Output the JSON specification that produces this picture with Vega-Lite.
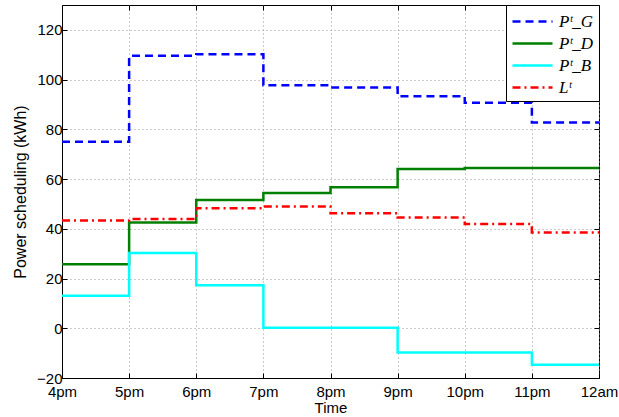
{
  "$schema": "https://vega.github.io/schema/vega-lite/v6.json",
  "width": 537,
  "height": 373,
  "autosize": {"type": "none"},
  "padding": {"left": 62, "top": 5, "right": 20, "bottom": 39},
  "background": "white",
  "config": {
    "view": {"stroke": "black", "strokeWidth": 1},
    "font": "Liberation Sans",
    "axis": {
      "domainColor": "black",
      "tickColor": "black",
      "labelColor": "black",
      "titleColor": "black",
      "labelFontSize": 15,
      "titleFontSize": 15,
      "titleFontWeight": "normal",
      "gridColor": "#999999",
      "gridDash": [1, 3],
      "gridOpacity": 1,
      "tickSize": -5,
      "labelFlush": false
    }
  },
  "data": {
    "values": [
      {"series": "Pᵗ_G", "hour": 16, "value": 75.0},
      {"series": "Pᵗ_G", "hour": 17, "value": 109.6},
      {"series": "Pᵗ_G", "hour": 18, "value": 110.2},
      {"series": "Pᵗ_G", "hour": 19, "value": 97.7},
      {"series": "Pᵗ_G", "hour": 20, "value": 96.8},
      {"series": "Pᵗ_G", "hour": 21, "value": 93.3},
      {"series": "Pᵗ_G", "hour": 22, "value": 90.7},
      {"series": "Pᵗ_G", "hour": 23, "value": 82.7},
      {"series": "Pᵗ_G", "hour": 24, "value": 82.7},
      {"series": "Pᵗ_D", "hour": 16, "value": 25.7},
      {"series": "Pᵗ_D", "hour": 17, "value": 42.5},
      {"series": "Pᵗ_D", "hour": 18, "value": 51.6},
      {"series": "Pᵗ_D", "hour": 19, "value": 54.4},
      {"series": "Pᵗ_D", "hour": 20, "value": 56.7},
      {"series": "Pᵗ_D", "hour": 21, "value": 64.0},
      {"series": "Pᵗ_D", "hour": 22, "value": 64.5},
      {"series": "Pᵗ_D", "hour": 23, "value": 64.5},
      {"series": "Pᵗ_D", "hour": 24, "value": 64.5},
      {"series": "Pᵗ_B", "hour": 16, "value": 13.1},
      {"series": "Pᵗ_B", "hour": 17, "value": 30.3},
      {"series": "Pᵗ_B", "hour": 18, "value": 17.3},
      {"series": "Pᵗ_B", "hour": 19, "value": 0.2},
      {"series": "Pᵗ_B", "hour": 20, "value": 0.2},
      {"series": "Pᵗ_B", "hour": 21, "value": -9.7},
      {"series": "Pᵗ_B", "hour": 22, "value": -9.7},
      {"series": "Pᵗ_B", "hour": 23, "value": -14.7},
      {"series": "Pᵗ_B", "hour": 24, "value": -14.7},
      {"series": "Lᵗ", "hour": 16, "value": 43.3},
      {"series": "Lᵗ", "hour": 17, "value": 43.9},
      {"series": "Lᵗ", "hour": 18, "value": 48.3},
      {"series": "Lᵗ", "hour": 19, "value": 49.0},
      {"series": "Lᵗ", "hour": 20, "value": 46.3},
      {"series": "Lᵗ", "hour": 21, "value": 44.5},
      {"series": "Lᵗ", "hour": 22, "value": 41.9},
      {"series": "Lᵗ", "hour": 23, "value": 38.5},
      {"series": "Lᵗ", "hour": 24, "value": 38.5}
    ]
  },
  "layer": [
    {
      "mark": {"type": "line", "opacity": 0},
      "encoding": {
        "x": {
          "field": "hour",
          "type": "quantitative",
          "scale": {"domain": [16, 24], "nice": false, "zero": false},
          "axis": {"orient": "top", "title": null, "labels": false, "grid": false, "domain": false, "values": [16, 17, 18, 19, 20, 21, 22, 23, 24]}
        },
        "y": {
          "field": "value",
          "type": "quantitative",
          "scale": {"domain": [-20, 130], "nice": false, "zero": false},
          "axis": {"orient": "right", "title": null, "labels": false, "grid": false, "domain": false, "values": [-20, 0, 20, 40, 60, 80, 100, 120]}
        }
      }
    },
    {
      "mark": {"type": "line", "interpolate": "step-after", "strokeWidth": 2.5, "clip": true},
      "encoding": {
        "x": {
          "field": "hour",
          "type": "quantitative",
          "scale": {"domain": [16, 24], "nice": false, "zero": false},
          "axis": {
            "title": "Time",
            "values": [16, 17, 18, 19, 20, 21, 22, 23, 24],
            "labelExpr": "datum.value == 24 ? '12am' : (datum.value - 12) + 'pm'",
            "labelPadding": 11,
            "titlePadding": 1,
            "grid": true
          }
        },
        "y": {
          "field": "value",
          "type": "quantitative",
          "scale": {"domain": [-20, 130], "nice": false, "zero": false},
          "axis": {
            "title": "Power scheduling (kWh)",
            "titleFontSize": 16,
            "values": [-20, 0, 20, 40, 60, 80, 100, 120],
            "labelPadding": 5,
            "titlePadding": 8,
            "grid": true
          }
        },
        "color": {
          "field": "series",
          "type": "nominal",
          "sort": ["Pᵗ_G", "Pᵗ_D", "Pᵗ_B", "Lᵗ"],
          "scale": {"domain": ["Pᵗ_G", "Pᵗ_D", "Pᵗ_B", "Lᵗ"], "range": ["#0000ff", "#008000", "#00ffff", "#ff0000"]},
          "legend": {
            "title": null,
            "orient": "top-right",
            "offset": 0,
            "fillColor": "white",
            "strokeColor": "black",
            "padding": 5,
            "symbolType": "M-1,0H3",
            "symbolSize": 400,
            "symbolStrokeWidth": 2.5,
            "labelFont": "Liberation Serif",
            "labelFontStyle": "italic",
            "labelFontSize": 17,
            "labelOffset": 25,
            "rowPadding": 2
          }
        },
        "strokeDash": {
          "field": "series",
          "type": "nominal",
          "sort": ["Pᵗ_G", "Pᵗ_D", "Pᵗ_B", "Lᵗ"],
          "scale": {"domain": ["Pᵗ_G", "Pᵗ_D", "Pᵗ_B", "Lᵗ"], "range": [[8, 5], [1, 0], [1, 0], [8, 4, 2, 4]]},
          "legend": null
        }
      }
    }
  ],
  "resolve": {"axis": {"x": "independent", "y": "independent"}}
}
